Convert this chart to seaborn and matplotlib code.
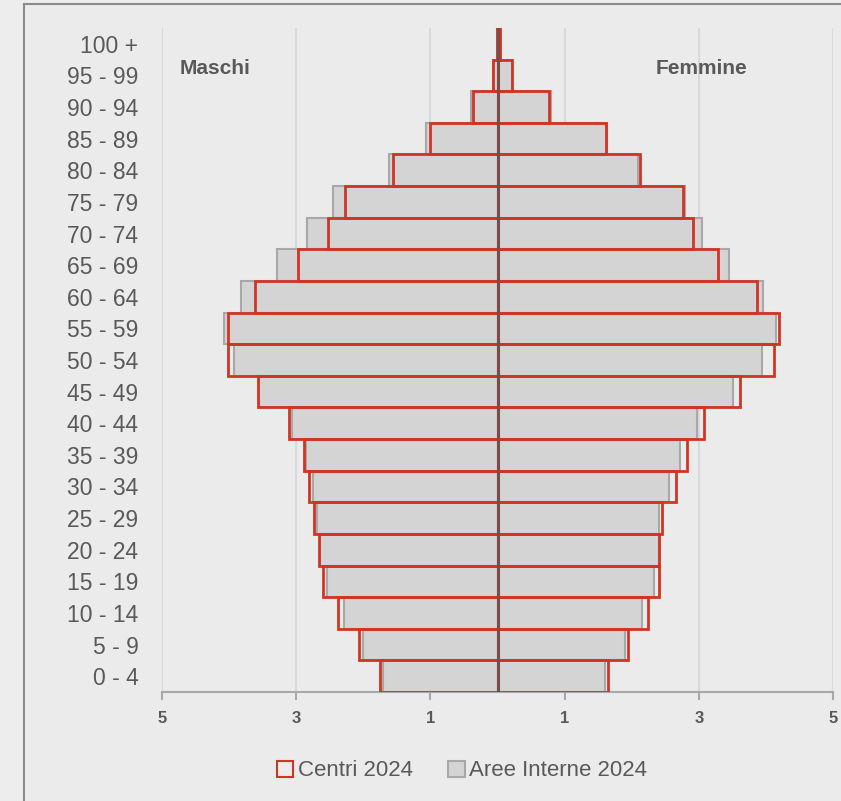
import pandas as pd
import seaborn as sns
import matplotlib.pyplot as plt
from matplotlib.patches import Patch, Rectangle

# age classes, top to bottom
ages = ["100 +", "95 - 99", "90 - 94", "85 - 89", "80 - 84", "75 - 79", "70 - 74",
        "65 - 69", "60 - 64", "55 - 59", "50 - 54", "45 - 49", "40 - 44", "35 - 39",
        "30 - 34", "25 - 29", "20 - 24", "15 - 19", "10 - 14", "5 - 9", "0 - 4"]

# % of population
centri_m = [0.01, 0.07, 0.36, 1.00, 1.56, 2.27, 2.53, 2.98, 3.62, 4.02, 4.01, 3.57, 3.10,
            2.89, 2.81, 2.73, 2.66, 2.60, 2.38, 2.06, 1.75]
centri_f = [0.03, 0.22, 0.77, 1.61, 2.13, 2.76, 2.91, 3.28, 3.87, 4.19, 4.12, 3.62, 3.08,
            2.83, 2.66, 2.45, 2.41, 2.41, 2.24, 1.94, 1.64]
interne_m = [0.01, 0.07, 0.39, 1.06, 1.61, 2.45, 2.84, 3.28, 3.82, 4.08, 3.92, 3.55, 3.06,
             2.85, 2.75, 2.69, 2.65, 2.54, 2.29, 2.00, 1.70]
interne_f = [0.02, 0.21, 0.80, 1.63, 2.09, 2.80, 3.05, 3.45, 3.96, 4.15, 3.94, 3.51, 2.98,
             2.72, 2.56, 2.40, 2.40, 2.33, 2.15, 1.90, 1.60]

xticks = [-5, -3, -1, 1, 3, 5]
xtick_labels = ["5", "3", "1", "1", "3", "5"]

RED = "#d03524"
GREY_FILL = "#d4d4d4"
GREY_EDGE = "#a8a8a8"
TEXT = "#595959"

sns.set_theme(style="white")
plt.rcParams["font.family"] = ["Liberation Sans", "DejaVu Sans"]

fig = plt.figure(figsize=(8.41, 8.01), dpi=100, facecolor="#ededed")
fig.patches.append(Rectangle((24 / 841, -0.1), 1.1, 1 - 4 / 801 + 0.1,
                             transform=fig.transFigure, facecolor="#ebebeb",
                             edgecolor="#8c8c8c", linewidth=1.5, zorder=-5))
ax = fig.add_axes([162 / 841, 1 - 692 / 801, 671 / 841, 664 / 801], zorder=2)
ax.set_facecolor("none")

for vals, sign in [(interne_m, -1), (interne_f, 1)]:
    d = pd.DataFrame({"age": ages, "val": [sign * v for v in vals]})
    sns.barplot(data=d, x="val", y="age", order=ages, orient="h", width=1.0,
                color=GREY_FILL, edgecolor=GREY_EDGE, linewidth=1.5,
                saturation=1, ax=ax, zorder=2)

for vals, sign in [(centri_m, -1), (centri_f, 1)]:
    d = pd.DataFrame({"age": ages, "val": [sign * v for v in vals]})
    sns.barplot(data=d, x="val", y="age", order=ages, orient="h", width=1.0,
                facecolor="none", edgecolor=RED, linewidth=2,
                ax=ax, zorder=3)

ax.axvline(0, color="#7a4b47", linewidth=2.2, zorder=4)

ax.set_xlim(-5, 5)
ax.set_ylim(len(ages) - 0.5, -0.5)
ax.set_xticks(xticks)
ax.set_xticklabels(xtick_labels, fontsize=12, fontweight="bold", color=TEXT)
ax.tick_params(axis="x", length=6, width=1.5, color=GREY_EDGE, pad=8, bottom=True)
ax.tick_params(axis="y", length=0, pad=17, labelsize=16.5, labelcolor=TEXT)
ax.grid(axis="x", color="#d9d9d9", linewidth=1.5, zorder=0)
ax.set_axisbelow(True)
for s in ["top", "right", "left"]:
    ax.spines[s].set_visible(False)
ax.spines["bottom"].set_color(GREY_EDGE)
ax.spines["bottom"].set_linewidth(1.5)
ax.set_xlabel("")
ax.set_ylabel("")

ax.text(-4.73, 0.77, "Maschi", fontsize=15, fontweight="bold", color=TEXT,
        ha="left", va="center")
ax.text(2.35, 0.77, "Femmine", fontsize=15, fontweight="bold", color=TEXT,
        ha="left", va="center")

handles = [Patch(facecolor="none", edgecolor=RED, linewidth=1.5, label="Centri 2024"),
           Patch(facecolor=GREY_FILL, edgecolor=GREY_EDGE, linewidth=1.5,
                 label="Aree Interne 2024")]
fig.legend(handles=handles, loc="center", bbox_to_anchor=(462 / 841, 1 - 771 / 801),
           ncol=2, frameon=False, fontsize=16, labelcolor=TEXT,
           handlelength=0.75, handleheight=0.75, handletextpad=0.2, columnspacing=1.6)

fig.savefig("out.png", dpi=100, facecolor=fig.get_facecolor())
